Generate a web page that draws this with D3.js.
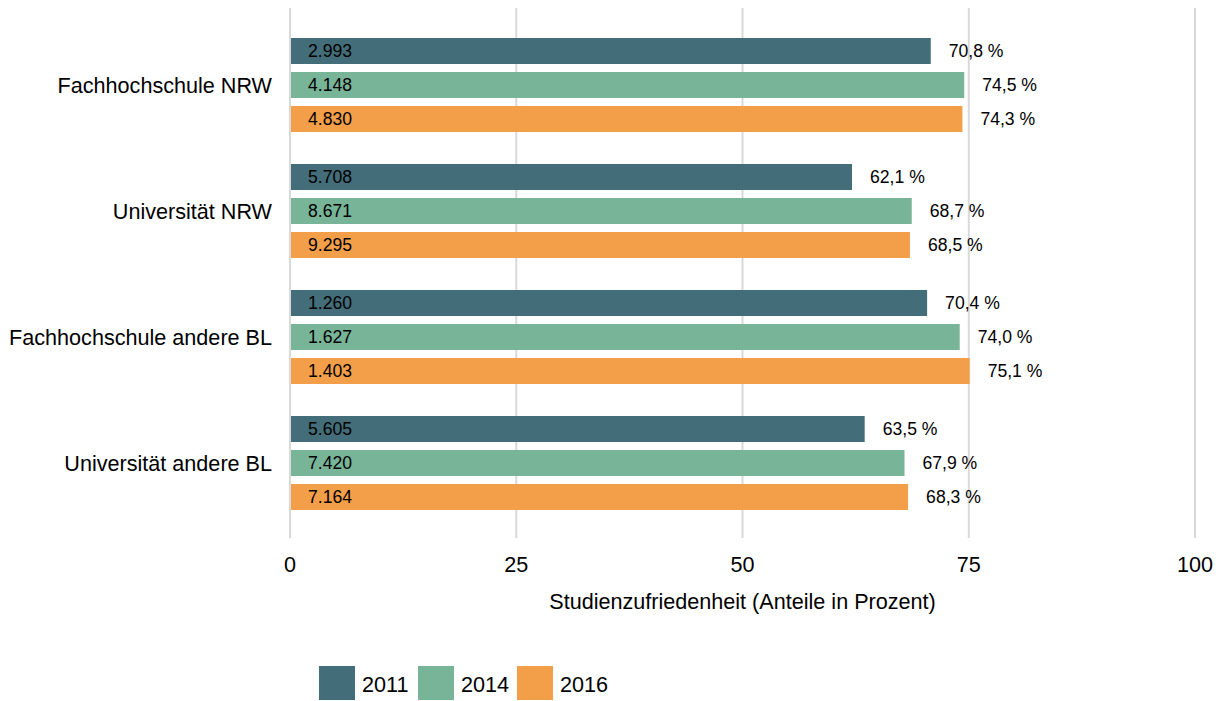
<!DOCTYPE html>
<html lang="de">
<head>
<meta charset="UTF-8">
<title>Studienzufriedenheit</title>
<script src="https://cdn.jsdelivr.net/npm/d3@7"></script>
<style>
  body { margin: 0; background: #fff; }
  text { font-family: "Liberation Sans", Arial, sans-serif; fill: #000; }
</style>
</head>
<body>
<script>
// daten
const categories = ["Fachhochschule NRW", "Universität NRW", "Fachhochschule andere BL", "Universität andere BL"];
const years = ["2011", "2014", "2016"];
const colors = ["#436d79", "#78b498", "#f39e48"];
// Zufriedenheit in Prozent
const pct2011 = [70.8, 62.1, 70.4, 63.5];
const pct2014 = [74.5, 68.7, 74.0, 67.9];
const pct2016 = [74.3, 68.5, 75.1, 68.3];
// Fallzahlen
const n2011 = ["2.993", "5.708", "1.260", "5.605"];
const n2014 = ["4.148", "8.671", "1.627", "7.420"];
const n2016 = ["4.830", "9.295", "1.403", "7.164"];
const ticks = [0, 25, 50, 75, 100];

const pct = [pct2011, pct2014, pct2016];
const ns = [n2011, n2014, n2016];

const W = 1223, H = 701;
const svg = d3.select("body").append("svg").attr("width", W).attr("height", H);

const x = d3.scaleLinear().domain([0, 100]).range([290, 1195]);
const y = d3.scaleBand().domain(categories).range([22, 526]);
const yInner = d3.scaleBand().domain(years).range([0, 94]).paddingInner(0.235);

// gitterlinien
svg.selectAll(".grid").data(ticks).enter().append("line")
  .attr("x1", d => x(d)).attr("x2", d => x(d))
  .attr("y1", 8).attr("y2", 538)
  .attr("stroke", "#d9d9d9").attr("stroke-width", 2);

// balken
const rows = [];
categories.forEach((c, i) => {
  years.forEach((yr, j) => {
    rows.push({ cat: c, year: yr, j: j, v: pct[j][i], n: ns[j][i] });
  });
});

const groupTop = c => y(c) + (y.bandwidth() - 94) / 2;

svg.selectAll(".bar").data(rows).enter().append("rect")
  .attr("x", x(0) + 1)
  .attr("y", d => groupTop(d.cat) + yInner(d.year))
  .attr("width", d => x(d.v) - x(0) - 1)
  .attr("height", yInner.bandwidth())
  .attr("fill", d => colors[d.j]);

svg.selectAll(".nlab").data(rows).enter().append("text")
  .attr("x", x(0) + 18)
  .attr("y", d => groupTop(d.cat) + yInner(d.year) + yInner.bandwidth() / 2)
  .attr("dy", "0.35em")
  .attr("font-size", 17.6)
  .text(d => d.n);

svg.selectAll(".vlab").data(rows).enter().append("text")
  .attr("x", d => x(d.v) + 18)
  .attr("y", d => groupTop(d.cat) + yInner(d.year) + yInner.bandwidth() / 2)
  .attr("dy", "0.35em")
  .attr("font-size", 17.6)
  .text(d => d3.format(".1f")(d.v).replace(".", ",") + " %");

// kategorien
svg.selectAll(".cat").data(categories).enter().append("text")
  .attr("x", 272)
  .attr("y", d => y(d) + y.bandwidth() / 2)
  .attr("dy", "0.35em")
  .attr("text-anchor", "end")
  .attr("font-size", 21.6)
  .text(d => d);

// x-achse
svg.selectAll(".tick").data(ticks).enter().append("text")
  .attr("x", d => x(d))
  .attr("y", 572)
  .attr("text-anchor", "middle")
  .attr("font-size", 21.6)
  .text(d => d);

svg.append("text")
  .attr("x", x(50)).attr("y", 609)
  .attr("text-anchor", "middle")
  .attr("font-size", 21.6)
  .text("Studienzufriedenheit (Anteile in Prozent)");

// legende
const legX = [319, 418, 517];
const leg = svg.selectAll(".leg").data(years).enter().append("g")
  .attr("transform", (d, i) => `translate(${legX[i]},666)`);
leg.append("rect").attr("width", 36).attr("height", 34).attr("fill", (d, i) => colors[i]);
leg.append("text").attr("x", 43).attr("y", 18).attr("dy", "0.35em")
  .attr("font-size", 21.6).text(d => d);
</script>
</body>
</html>
